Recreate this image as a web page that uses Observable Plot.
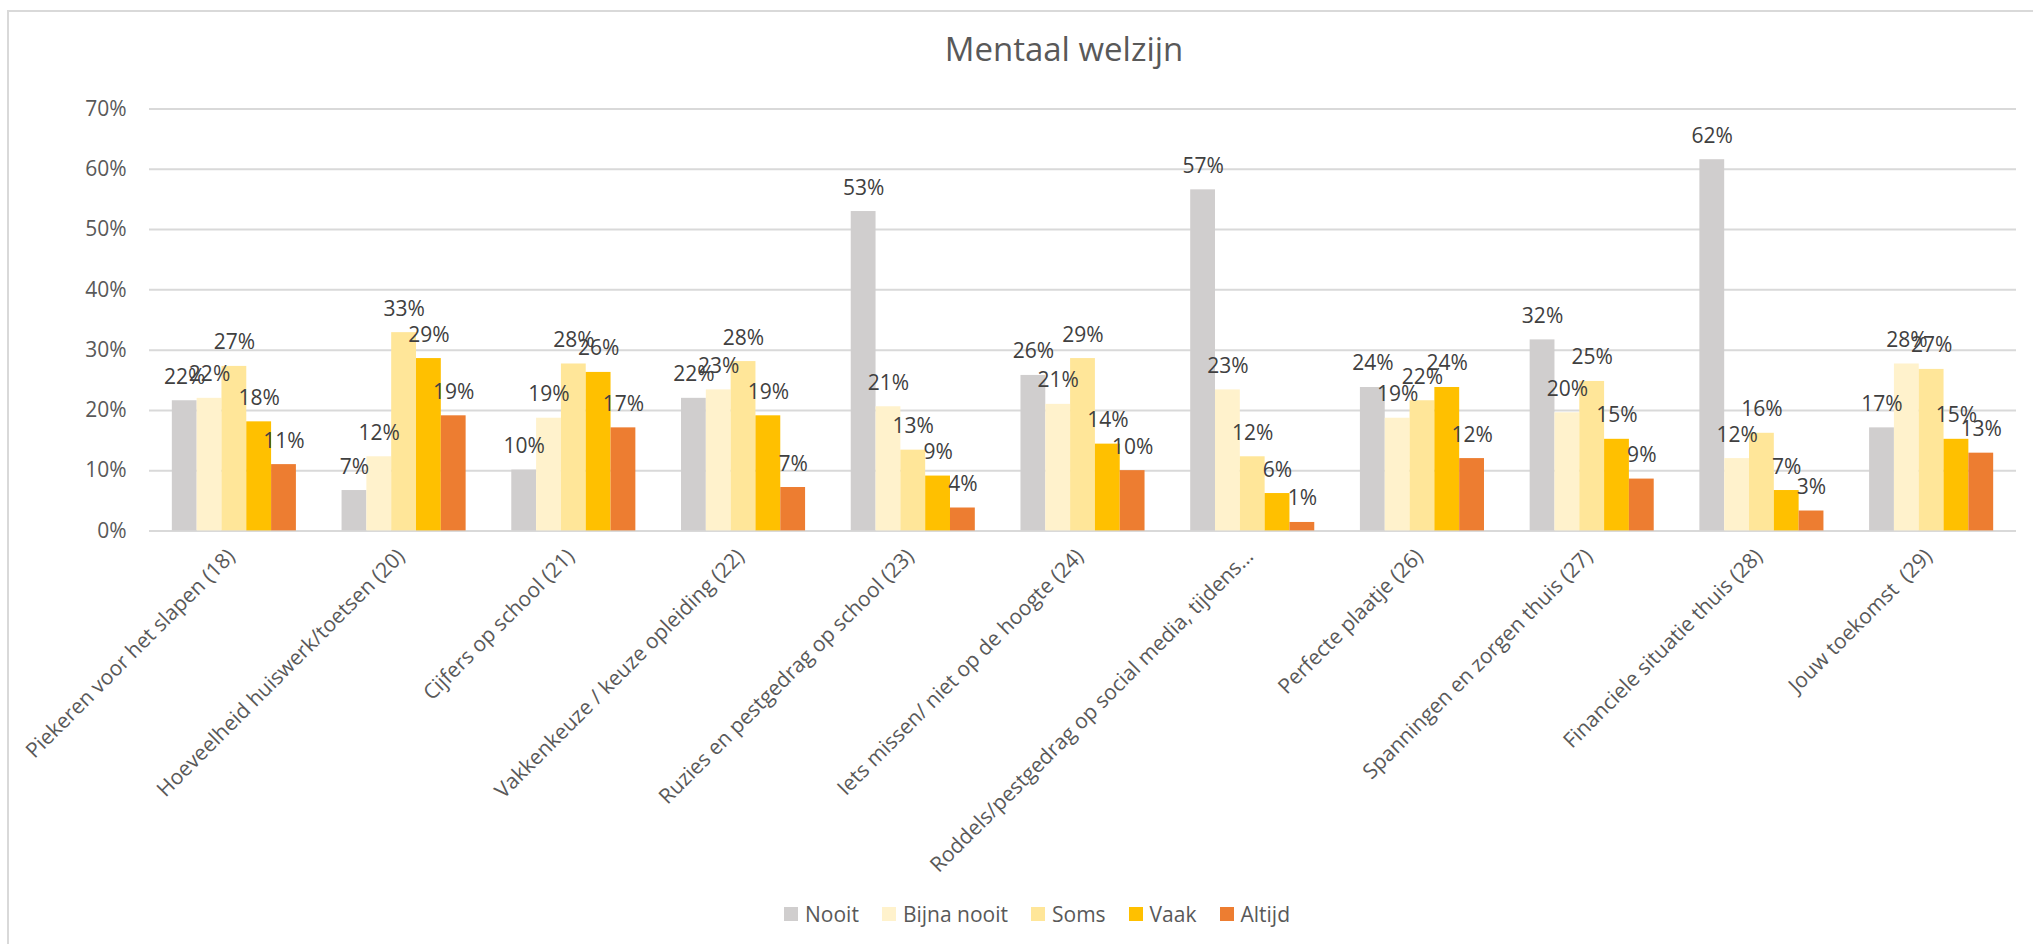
<!DOCTYPE html>
<html>
<head>
<meta charset="utf-8">
<script src="https://cdn.jsdelivr.net/npm/d3@7"></script>
<script src="https://cdn.jsdelivr.net/npm/@observablehq/plot@0.6"></script>
<style>
  html, body { margin: 0; padding: 0; background: #fff; overflow: hidden; }
  #wrap { position: relative; width: 2033px; height: 944px; overflow: hidden; font-family: "Open Sans", sans-serif; }
  #frame { position: absolute; left: 7px; top: 10px; width: 2100px; height: 1000px; border: 2px solid #d9d9d9; box-sizing: border-box; }
  .layer { position: absolute; left: 0; top: 0; }
  #title { position: absolute; left: 1064px; top: 32px; transform: translateX(-50%); font-size: 33px; line-height: 33px; color: #595959; white-space: nowrap; }
  #legend { position: absolute; left: 784px; top: 900px; height: 28px; display: flex; align-items: center; font-size: 21px; color: #595959; }
  #legend .item { display: flex; align-items: center; margin-right: 23px; }
  #legend .sw { width: 14px; height: 14px; margin-right: 7px; }
</style>
</head>
<body>
<div id="wrap">
  <div id="frame"></div>
  <div id="bg" class="layer"></div>
  <div id="fg" class="layer"></div>
  <div id="title">Mentaal welzijn</div>
  <div id="legend"></div>
</div>
<script>
const categories = [
  "Piekeren voor het slapen (18)",
  "Hoeveelheid huiswerk/toetsen (20)",
  "Cijfers op school (21)",
  "Vakkenkeuze / keuze opleiding (22)",
  "Ruzies en pestgedrag op school (23)",
  "Iets missen/ niet op de hoogte (24)",
  "Roddels/pestgedrag op social media, tijdens…",
  "Perfecte plaatje (26)",
  "Spanningen en zorgen thuis (27)",
  "Financiele situatie thuis (28)",
  "Jouw toekomst  (29)"
];
const series = ["Nooit", "Bijna nooit", "Soms", "Vaak", "Altijd"];
const colors = ["#D0CECE", "#FFF2CC", "#FFE699", "#FFC000", "#ED7D31"];
const nooit      = [0.216, 0.067, 0.101, 0.220, 0.530, 0.258, 0.566, 0.238, 0.317, 0.616, 0.171];
const bijnaNooit = [0.220, 0.123, 0.187, 0.234, 0.206, 0.210, 0.234, 0.187, 0.196, 0.120, 0.277];
const soms       = [0.273, 0.329, 0.277, 0.281, 0.134, 0.286, 0.123, 0.216, 0.248, 0.162, 0.268];
const vaak       = [0.181, 0.286, 0.263, 0.191, 0.091, 0.144, 0.062, 0.238, 0.152, 0.067, 0.152];
const altijd     = [0.110, 0.191, 0.171, 0.072, 0.038, 0.100, 0.014, 0.120, 0.086, 0.033, 0.129];
const yTicks = [0, 0.1, 0.2, 0.3, 0.4, 0.5, 0.6, 0.7];

const valuesBySeries = [nooit, bijnaNooit, soms, vaak, altijd];
const rows = [];
categories.forEach((c, i) => {
  series.forEach((s, j) => rows.push({category: c, series: s, value: valuesBySeries[j][i]}));
});
const pct = d3.format(".0%");

const W = 2033, H = 944;
const margins = {marginLeft: 149, marginRight: 17, marginTop: 108.6, marginBottom: H - 530.4};

const bg = Plot.plot({
  width: W, height: H, ...margins,
  style: {fontFamily: "Open Sans", fontSize: "21px", color: "#595959", background: "transparent"},
  y: {domain: [0, 0.7], ticks: yTicks, tickFormat: pct, tickSize: 0, tickPadding: 23, label: null},
  marks: [
    Plot.ruleY(yTicks, {stroke: "#d9d9d9", strokeWidth: 2})
  ]
});
document.getElementById("bg").appendChild(bg);

const hasAxisMarks = typeof Plot.axisFx === "function";
const fxAxisMarks = hasAxisMarks
  ? [Plot.axisFx({anchor: "bottom", tickRotate: -45, tickSize: 0, tickPadding: 14, dx: -3, dy: 8,
                  fontSize: 21, fill: "#595959", label: null})]
  : [];

const fg = Plot.plot({
  width: W, height: H, ...margins,
  style: {fontFamily: "Open Sans", fontSize: "21px", color: "#595959", background: "transparent"},
  fx: {domain: categories, axis: hasAxisMarks ? null : "bottom", paddingInner: 0.269, paddingOuter: 0.1345, round: false,
       tickRotate: -45, tickSize: 0, tickPadding: 22, label: null},
  x: {domain: series, padding: 0, axis: null, round: false},
  y: {domain: [0, 0.7], axis: null},
  color: {domain: series, range: colors},
  marks: [
    Plot.barY(rows, {fx: "category", x: "series", y: "value", fill: "series"}),
    Plot.text(rows, {fx: "category", x: "series", y: "value", text: d => pct(d.value),
      lineAnchor: "bottom", dy: -17, fill: "#404040", fontSize: 21}),
    ...fxAxisMarks
  ]
});
document.getElementById("fg").appendChild(fg);

const legend = document.getElementById("legend");
series.forEach((s, j) => {
  const item = document.createElement("div");
  item.className = "item";
  const sw = document.createElement("div");
  sw.className = "sw";
  sw.style.background = colors[j];
  const t = document.createElement("span");
  t.textContent = s;
  item.appendChild(sw); item.appendChild(t);
  legend.appendChild(item);
});
</script>
</body>
</html>
